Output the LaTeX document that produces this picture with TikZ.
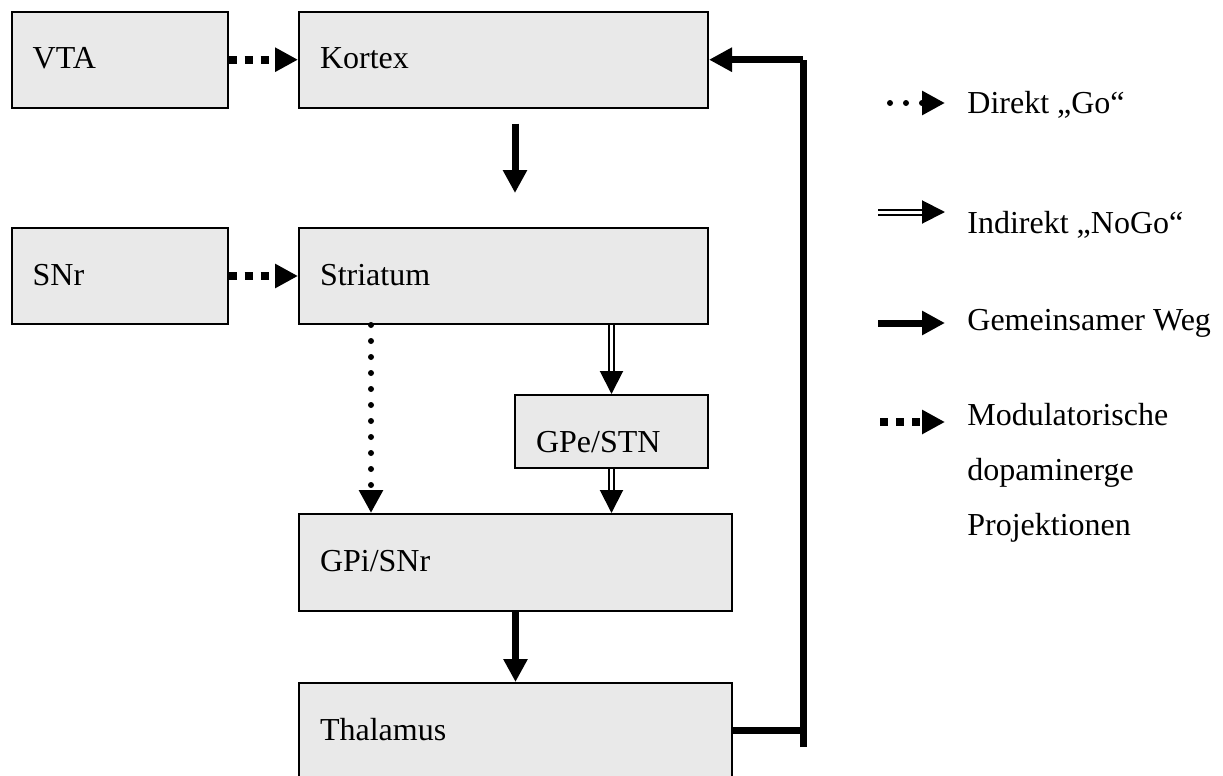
\documentclass[tikz,border=0pt]{standalone}
\usepackage{fontspec}
\setmainfont{Liberation Serif}
\usepackage{tikz}
\usetikzlibrary{arrows.meta,calc}
\definecolor{boxgrey}{HTML}{E9E9E9}

\begin{document}
\begin{tikzpicture}[x=0.5pt,y=-0.5pt,>={Triangle[length=11.5pt,width=11.5pt]}]
\tikzset{
	region/.style = {draw, fill=boxgrey, line width=1pt, anchor=north west, inner xsep=10.5pt, inner ysep=0pt, text height=28.5pt, align=left, font=\fontsize{16}{19}\selectfont},
	small region/.style = {region, text width=87pt, text depth=19.5pt},
	wide region/.style = {region, text width=183.5pt, text depth=19.5pt},
	legend text/.style = {anchor=base west, inner sep=0pt, align=left, font=\fontsize{16}{27.5}\selectfont},
	modulatory/.style = {->, line width=4pt, dash pattern=on 4pt off 4pt},
	direct/.style = {->, line width=3pt, line cap=round, dash pattern=on 0pt off 8pt},
	indirect/.style = {->, double, double distance=1.5pt, line width=1pt},
	common/.style = {->, line width=3.5pt},
}
\useasboundingbox (0,0) rectangle (1223,776);
\clip (0,0) rectangle (1223,776);

% boxes
\node[small region] (vta) at (10.7,10.7) {VTA};
\node[wide region] (kortex) at (298,10.7) {Kortex};
\node[small region] (snr) at (10.7,227) {SNr};
\node[wide region] (striatum) at (298,227) {Striatum};
\node[region, text width=75.5pt, text depth=8pt] (gpe) at (514,394) {GPe/STN};
\node[region, text width=195.5pt, text depth=20pt] (gpi) at (298,513) {GPi/SNr};
\node[region, text width=195.5pt, text depth=40pt] (thal) at (298,682) {Thalamus};

% loop back to the cortex
\coordinate (loopout) at ($(thal.north east)+(0,48)$);
\coordinate (loopbot) at (803,747);
\coordinate (looptop) at (loopbot |- kortex.east);

\draw[modulatory] (vta.east) -- (kortex.west);
\draw[modulatory] (snr.east) -- (striatum.west);
\draw[common] ($(kortex.south west)+(217,15)$) -- ($(striatum.north west)+(217,-34)$);
\draw[direct] ($(striatum.south west)+(73,0)$) -- ($(gpi.north west)+(73,0)$);
\draw[indirect] (striatum.south -| gpe.north) -- (gpe.north);
\draw[indirect] (gpe.south) -- (gpe.south |- gpi.north);
\draw[common] (gpi.south) -- (thal.north);
\draw[line width=3.5pt] (loopout) -- (loopout -| loopbot);
\draw[line width=3.5pt] (loopbot) -- (looptop);
\draw[common] (looptop) -- (kortex.east);

% legend
\node[legend text] (golabel) at (967,113) {Direkt „Go“};
\node[legend text] (nogolabel) at (967,233) {Indirekt „NoGo“};
\node[legend text] (commonlabel) at (967,330) {Gemeinsamer Weg};
\node[legend text] (modlabel) at (967,535) {Modulatorische\\dopaminerge\\Projektionen};

\coordinate (gostart) at (890,103);
\coordinate (nogostart) at (878,212);
\coordinate (commonstart) at (878,323);
\coordinate (modstart) at (880,422);

\draw[direct] (gostart) -- ([xshift=-11pt]golabel.west |- gostart);
\draw[indirect] (nogostart) -- ([xshift=-11pt]nogolabel.west |- nogostart);
\draw[common] (commonstart) -- ([xshift=-11pt]commonlabel.west |- commonstart);
\draw[modulatory] (modstart) -- ([xshift=-11pt]modlabel.west |- modstart);
\end{tikzpicture}
\end{document}
